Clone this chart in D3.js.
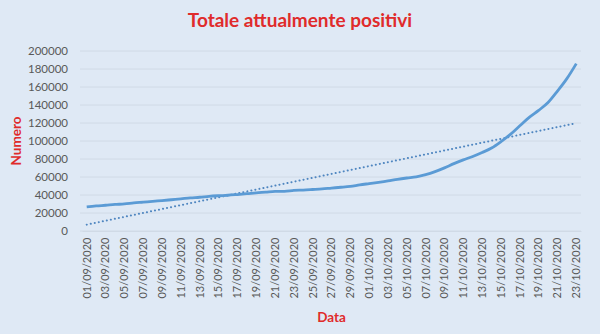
<!DOCTYPE html>
<html>
<head>
<meta charset="utf-8">
<script src="https://cdn.jsdelivr.net/npm/d3@7"></script>
<style>
  html, body { margin: 0; padding: 0; background: #dfe9f5; }
  svg { display: block; }
</style>
</head>
<body>
<svg id="chart" width="600" height="334"></svg>
<script>
// Giorni dal 01/09/2020 al 23/10/2020
const dates = [
  "01/09/2020","02/09/2020","03/09/2020","04/09/2020","05/09/2020","06/09/2020","07/09/2020",
  "08/09/2020","09/09/2020","10/09/2020","11/09/2020","12/09/2020","13/09/2020","14/09/2020",
  "15/09/2020","16/09/2020","17/09/2020","18/09/2020","19/09/2020","20/09/2020","21/09/2020",
  "22/09/2020","23/09/2020","24/09/2020","25/09/2020","26/09/2020","27/09/2020","28/09/2020",
  "29/09/2020","30/09/2020","01/10/2020","02/10/2020","03/10/2020","04/10/2020","05/10/2020",
  "06/10/2020","07/10/2020","08/10/2020","09/10/2020","10/10/2020","11/10/2020","12/10/2020",
  "13/10/2020","14/10/2020","15/10/2020","16/10/2020","17/10/2020","18/10/2020","19/10/2020",
  "20/10/2020","21/10/2020","22/10/2020","23/10/2020"
];

// Totale attualmente positivi
const positivi = [
  26754, 27817, 28598, 29472, 30099, 31194, 32078,
  32993, 33789, 34734, 35708, 36767, 37503, 38509,
  39187, 39712, 40532, 41413, 42457, 43161, 43944,
  44098, 45079, 45489, 46114, 46780, 47718, 48593,
  49618, 51263, 52647, 54015, 55566, 57429, 58903,
  60134, 62576, 65952, 70110, 74829, 79075, 82764,
  87193, 92174, 99266, 107312, 116935, 126237, 134003,
  142739, 155442, 169302, 186002
];

const yTicks = [0, 20000, 40000, 60000, 80000, 100000, 120000, 140000, 160000, 180000, 200000];

const svg = d3.select("#chart");
const W = 600, H = 334;
const margin = { left: 82, right: 19, top: 51, bottom: 103 };
const font = "Lato, 'Open Sans', sans-serif";

svg.append("rect").attr("width", W).attr("height", H).attr("fill", "#dfe9f5");

const x = d3.scaleBand().domain(dates).range([margin.left, W - margin.right]);
const cx = d => x(d) + x.bandwidth() / 2;
const y = d3.scaleLinear().domain([0, 200000]).range([H - margin.bottom, margin.top]);

// griglia orizzontale
svg.append("g")
  .selectAll("line")
  .data(yTicks)
  .join("line")
  .attr("x1", margin.left - 2)
  .attr("x2", W - margin.right)
  .attr("y1", d => y(d))
  .attr("y2", d => y(d))
  .attr("stroke", "#d0dae6")
  .attr("stroke-width", 1);

// asse Y
const yAxis = svg.append("g")
  .attr("transform", `translate(${margin.left},0)`)
  .call(d3.axisLeft(y).tickValues(yTicks).tickFormat(d3.format("d")).tickSize(0).tickPadding(14));
yAxis.select(".domain").remove();
yAxis.selectAll("text")
  .attr("fill", "#595959")
  .style("font-family", font)
  .style("font-size", "11.5px");

// asse X
const xAxis = svg.append("g")
  .attr("transform", `translate(0,${H - margin.bottom})`)
  .call(d3.axisBottom(x).tickValues(dates.filter((d, i) => i % 2 === 0)).tickSize(0));
xAxis.select(".domain").attr("stroke", "#d0dae6");
xAxis.selectAll("text")
  .attr("fill", "#595959")
  .style("font-family", font)
  .style("font-size", "11px")
  .attr("transform", "rotate(-90)")
  .attr("text-anchor", "end")
  .attr("dy", "0.35em")
  .attr("dx", "-0.6em")
  .attr("x", 0)
  .attr("y", 0);

// retta di tendenza lineare (minimi quadrati)
const n = positivi.length;
const idx = d3.range(n);
const mx = d3.mean(idx), my = d3.mean(positivi);
const slope = d3.sum(idx, i => (i - mx) * (positivi[i] - my)) / d3.sum(idx, i => (i - mx) ** 2);
const intercept = my - slope * mx;

svg.append("line")
  .attr("x1", cx(dates[0]))
  .attr("x2", cx(dates[n - 1]))
  .attr("y1", y(intercept))
  .attr("y2", y(intercept + slope * (n - 1)))
  .attr("stroke", "#4f86c0")
  .attr("stroke-width", 2)
  .attr("stroke-linecap", "round")
  .attr("stroke-dasharray", "0.1 4");

// serie
const line = d3.line()
  .x((d, i) => cx(dates[i]))
  .y(d => y(d))
  .curve(d3.curveMonotoneX);

svg.append("path")
  .datum(positivi)
  .attr("d", line)
  .attr("fill", "none")
  .attr("stroke", "#5b9bd5")
  .attr("stroke-width", 2.8)
  .attr("stroke-linejoin", "round");

// titoli
svg.append("text")
  .attr("x", 300).attr("y", 27)
  .attr("text-anchor", "middle")
  .attr("fill", "#e02b2b")
  .style("font-family", font)
  .style("font-weight", "bold")
  .style("font-size", "19px")
  .text("Totale attualmente positivi");

svg.append("text")
  .attr("transform", `translate(21,${y(100000)}) rotate(-90)`)
  .attr("text-anchor", "middle")
  .attr("fill", "#e02b2b")
  .style("font-family", font)
  .style("font-weight", "bold")
  .style("font-size", "13.5px")
  .text("Numero");

svg.append("text")
  .attr("x", (margin.left + W - margin.right) / 2)
  .attr("y", 322)
  .attr("text-anchor", "middle")
  .attr("fill", "#e02b2b")
  .style("font-family", font)
  .style("font-weight", "bold")
  .style("font-size", "13.5px")
  .text("Data");
</script>
</body>
</html>
